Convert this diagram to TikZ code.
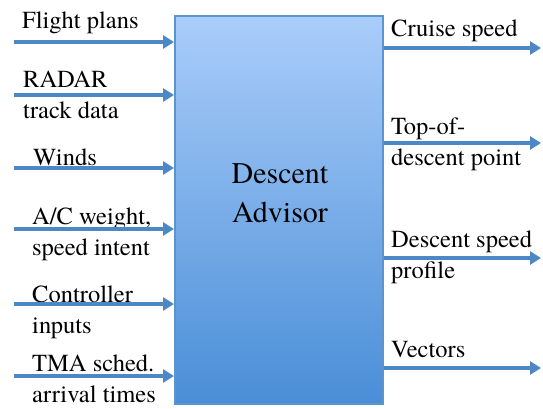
\documentclass[tikz,border=0pt]{standalone}
\usepackage{fontspec}
\setmainfont{texgyretermes}[Extension=.otf,UprightFont=*-regular]
\usetikzlibrary{arrows.meta}
\definecolor{boxtop}{HTML}{AACDFA}
\definecolor{boxbot}{HTML}{4A8ED7}
\definecolor{boxedge}{HTML}{5A95CF}
\definecolor{feedblue}{HTML}{4C88C6}

\begin{document}
\begin{tikzpicture}[x=1pt,y=-1pt]
\tikzstyle{feed}=[draw=feedblue,line width=4pt,-{Triangle[length=11pt,width=13pt]}]
\tikzstyle{lbl}=[anchor=base west,align=left,inner sep=0pt,font=\fontsize{24.5}{31}\selectfont]
\useasboundingbox (0,0) rectangle (543,409);
\node[draw=boxedge,line width=2pt,top color=boxtop,bottom color=boxbot,minimum width=208pt,minimum height=388pt,inner sep=0pt] (da) at (279,210) {};
\node[anchor=base,align=center,inner sep=0pt,font=\fontsize{30}{39}\selectfont] (title) at (280,222) {Descent\\Advisor};
% inputs (label baseline = last line)
\foreach \n/\a/\x/\y/\t in {fp/42/22/29/{Flight plans},radar/95/23/118/{RADAR\\track data},winds/168/33/165/{Winds},acw/229/32/255/{A/C weight,\\speed intent},ctrl/304/32/333/{Controller\\inputs},tma/376/32/402/{TMA sched.\\arrival times}}{
\node[lbl] (t\n) at (\x,\y) {\t};
\coordinate (\n) at (14,\a);
\draw[feed] (\n) -- (\n -| da.west);
};
% outputs
\foreach \n/\a/\y/\t in {cruise/48/37/{Cruise speed},tod/143/165/{Top-of-\\descent point},dsp/258/278/{Descent speed\\profile},vec/368/357/{Vectors}}{
\node[lbl] (t\n) at (391,\y) {\t};
\coordinate (\n) at (541,\a);
\draw[feed] (\n -| da.east) -- (\n);
};
\end{tikzpicture}
\end{document}
